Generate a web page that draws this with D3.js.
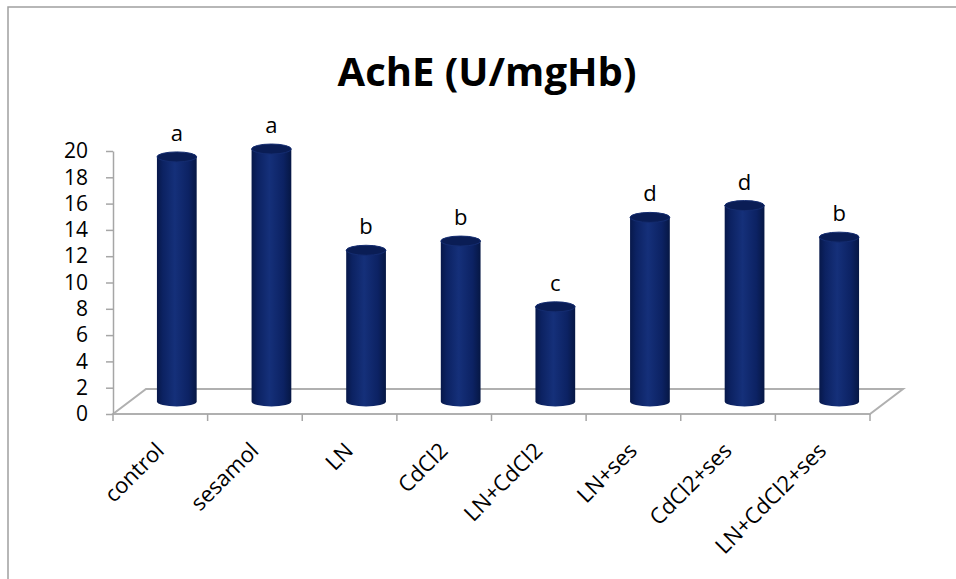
<!DOCTYPE html>
<html lang="en">
<head>
    <meta charset="UTF-8">
    <title>AchE (U/mgHb)</title>
    <style>
        body {
            margin: 0;
            background: #fff;
            font-family: "Open Sans", Arial, sans-serif;
        }
        .axis path, .axis line {
            stroke: #a6a6a6;
            stroke-width: 1.5;
        }
        .axis text {
            font-family: "Open Sans", Arial, sans-serif;
            font-size: 21px;
            fill: #000;
        }
    </style>
</head>
<body>
<div id="chart"></div>

<script src="https://d3js.org/d3.v7.min.js"></script>
<script>
    // data
    const categories = ["control", "sesamol", "LN", "CdCl2", "LN+CdCl2", "LN+ses", "CdCl2+ses", "LN+CdCl2+ses"];
    const values = [18.6, 19.2, 11.5, 12.2, 7.2, 14.0, 14.9, 12.5];
    const letters = ["a", "a", "b", "b", "c", "d", "d", "b"];
    const yTicks = [0, 2, 4, 6, 8, 10, 12, 14, 16, 18, 20];

    const width = 956;
    const height = 579;

    // depth of the 3d floor
    const depthX = 33;
    const depthY = -25;

    const svg = d3.select("#chart")
        .append("svg")
        .attr("width", width)
        .attr("height", height);

    // outer frame (only top and left edges visible)
    svg.append("rect")
        .attr("x", 8)
        .attr("y", 7)
        .attr("width", 1000)
        .attr("height", 700)
        .attr("fill", "none")
        .attr("stroke", "#a0a0a0")
        .attr("stroke-width", 1.5);

    // gradient for cylinder body
    const defs = svg.append("defs");
    const grad = defs.append("linearGradient")
        .attr("id", "cyl")
        .attr("x1", "0%").attr("x2", "100%")
        .attr("y1", "0%").attr("y2", "0%");
    grad.append("stop").attr("offset", "0%").attr("stop-color", "#07184a");
    grad.append("stop").attr("offset", "15%").attr("stop-color", "#0c2262");
    grad.append("stop").attr("offset", "45%").attr("stop-color", "#15307a");
    grad.append("stop").attr("offset", "80%").attr("stop-color", "#0c2263");
    grad.append("stop").attr("offset", "100%").attr("stop-color", "#061744");

    const x = d3.scaleBand()
        .domain(categories)
        .range([113, 870])
        .padding(0);

    const y = d3.scaleLinear()
        .domain([0, 20])
        .range([414, 151]);

    // title
    svg.append("text")
        .attr("x", 487)
        .attr("y", 86)
        .attr("text-anchor", "middle")
        .attr("font-size", 40)
        .attr("font-weight", "bold")
        .text("AchE (U/mgHb)");

    // floor
    const x0 = x.range()[0], x1 = x.range()[1], yb = y(0);
    svg.append("path")
        .attr("d", `M${x0},${yb}L${x1},${yb}L${x1 + depthX},${yb + depthY}L${x0 + depthX},${yb + depthY}Z`)
        .attr("fill", "none")
        .attr("stroke", "#b0b0b0")
        .attr("stroke-width", 2);

    // y axis
    svg.append("g")
        .attr("class", "axis")
        .attr("transform", `translate(${x0},0)`)
        .call(d3.axisLeft(y).tickValues(yTicks).tickSize(7).tickSizeOuter(0).tickPadding(18));

    // x tick marks at category boundaries
    const bounds = categories.map(c => x(c)).concat([x1]);
    svg.append("g")
        .selectAll("line")
        .data(bounds)
        .enter()
        .append("line")
        .attr("x1", d => d)
        .attr("x2", d => d)
        .attr("y1", yb)
        .attr("y2", yb + 7)
        .attr("stroke", "#a6a6a6")
        .attr("stroke-width", 1.5);

    // x labels, rotated
    svg.append("g")
        .selectAll("text")
        .data(categories)
        .enter()
        .append("text")
        .attr("transform", d => `translate(${x(d) + x.bandwidth() / 2 + 5},${452}) rotate(-45)`)
        .attr("text-anchor", "end")
        .attr("font-size", 22)
        .text(d => d);

    // cylinders
    const rx = x.bandwidth() * 0.21;
    const ry = 5;
    const offX = depthX / 2, offY = depthY / 2;

    const bars = svg.append("g")
        .selectAll("g")
        .data(categories.map((c, i) => ({ c, v: values[i], l: letters[i] })))
        .enter()
        .append("g");

    bars.append("path")
        .attr("d", d => {
            const cx = x(d.c) + x.bandwidth() / 2 + offX;
            const top = y(d.v) + offY;
            const bot = y(0) + offY;
            return `M${cx - rx},${top}L${cx - rx},${bot}A${rx},${ry} 0 0 0 ${cx + rx},${bot}L${cx + rx},${top}Z`;
        })
        .attr("fill", "url(#cyl)");

    bars.append("ellipse")
        .attr("cx", d => x(d.c) + x.bandwidth() / 2 + offX)
        .attr("cy", d => y(d.v) + offY)
        .attr("rx", rx)
        .attr("ry", ry)
        .attr("fill", "#0a1d55")
        .attr("stroke", "#142c70")
        .attr("stroke-width", 1);

    // significance letters
    bars.append("text")
        .attr("x", d => x(d.c) + x.bandwidth() / 2 + offX)
        .attr("y", d => y(d.v) + offY - 16)
        .attr("text-anchor", "middle")
        .attr("font-size", 22)
        .text(d => d.l);
</script>

</body>
</html>
